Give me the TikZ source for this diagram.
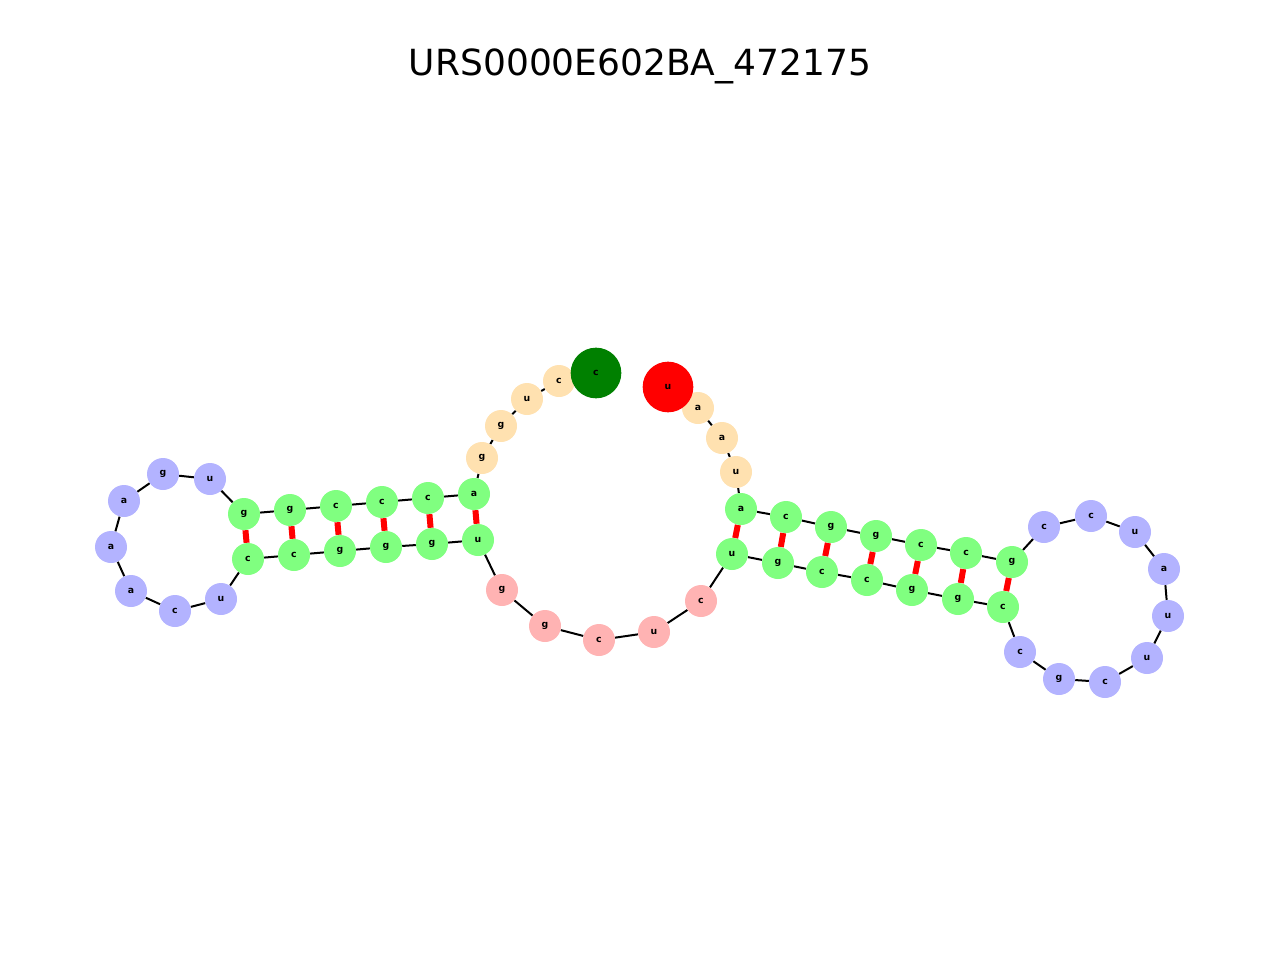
\documentclass[tikz,border=0pt]{standalone}
\usepackage{fontspec}
\setmainfont{DejaVu Sans}
\usetikzlibrary{backgrounds}
\definecolor{cO}{HTML}{FFE1B0}
\definecolor{cG}{HTML}{80FF80}
\definecolor{cB}{HTML}{B3B3FF}
\definecolor{cP}{HTML}{FFB3B3}
\definecolor{cS}{HTML}{008000}
\definecolor{cE}{HTML}{FF0000}
\tikzset{nt/.style={circle,inner sep=0pt,minimum size=24pt,font=\fontsize{7}{7}\selectfont\bfseries},
 big/.style={minimum size=38pt},
 bb/.style={black,line width=1.5pt},
 pr/.style={red,line width=4.5pt}}
\begin{document}
\begin{tikzpicture}[x=0.75pt,y=-0.75pt]
\useasboundingbox (0,0) rectangle (1280,960);
\node[font=\fontsize{27}{27}\selectfont] (title) at (640,66) {URS0000E602BA\_472175};
\foreach \n/\x/\y/\l/\c in {
1/596/373/c/cS,2/559/381/c/cO,3/527/399/u/cO,4/501/426/g/cO,5/482/458/g/cO,
6/474/494/a/cG,7/428/498/c/cG,8/382/502/c/cG,9/336/506/c/cG,10/290/510/g/cG,11/244/514/g/cG,
12/210/479/u/cB,13/163/474/g/cB,14/124/501/a/cB,15/111/547/a/cB,16/131/591/a/cB,17/175/611/c/cB,18/221/599/u/cB,
19/248/559/c/cG,20/294/555/c/cG,21/340/551/g/cG,22/386/547/g/cG,23/432/544/g/cG,24/478/540/u/cG,
25/502/590/g/cP,26/545/626/g/cP,27/599/640/c/cP,28/654/632/u/cP,29/701/601/c/cP,
30/732/554/u/cG,31/778/563/g/cG,32/822/572/c/cG,33/867/580/c/cG,34/912/590/g/cG,35/958/599/g/cG,36/1003/607/c/cG,
37/1020/652/c/cB,38/1059/679/g/cB,39/1105/682/c/cB,40/1147/658/u/cB,41/1168/616/u/cB,42/1164/569/a/cB,43/1135/532/u/cB,44/1091/516/c/cB,45/1044/527/c/cB,
46/1012/562/g/cG,47/966/553/c/cG,48/921/545/c/cG,49/876/536/g/cG,50/831/527/g/cG,51/786/517/c/cG,52/741/509/a/cG,
53/736/472/u/cO,54/722/438/a/cO,55/698/408/a/cO,56/668/387/u/cE}
  \node[nt,fill=\c] (n\n) at (\x,\y) {\l};
\node[nt,big,fill=cS] at (n1) {c};
\node[nt,big,fill=cE] at (n56) {u};
\begin{scope}[on background layer]
\foreach \a in {2,...,55}{\pgfmathtruncatemacro{\b}{\a+1}\draw[bb] (n\a) -- (n\b);}
\draw[bb] (n1) -- (n2);
\foreach \a/\b in {6/24,7/23,8/22,9/21,10/20,11/19,30/52,31/51,32/50,33/49,34/48,35/47,36/46}
  \draw[pr] (n\a) -- (n\b);
\end{scope}
\end{tikzpicture}
\end{document}
